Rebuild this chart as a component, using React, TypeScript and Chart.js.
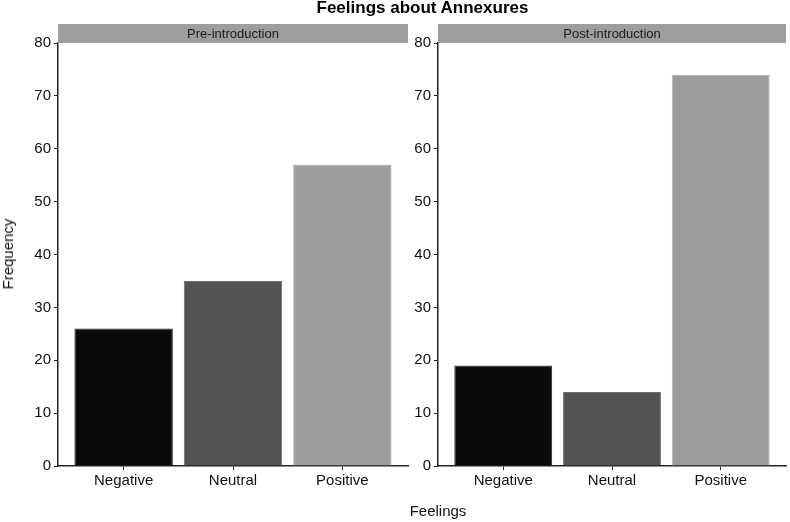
import React, { useEffect, useRef } from "react";
import { Chart, registerables } from "chart.js";

Chart.register(...registerables);

const categories = ["Negative", "Neutral", "Positive"];
const preValues = [26, 35, 57];
const postValues = [19, 14, 74];
const panelTitles = ["Pre-introduction", "Post-introduction"];
const barColors = ["#0a0a0a", "#535353", "#9c9c9c"];
const barBorders = ["#2a2a2a", "#6a6a6a", "#b4b4b4"];
const yMax = 80;
const yStep = 10;

const FONT = "'Liberation Sans', Arial, Helvetica, sans-serif";

const stripPlugin = {
  id: "strip",
  afterDraw(chart: any, _args: any, opts: any) {
    const { ctx, chartArea } = chart;
    ctx.save();
    ctx.fillStyle = "#9e9e9e";
    ctx.fillRect(chartArea.left, 24, chartArea.right - chartArea.left, chartArea.top - 24);
    ctx.fillStyle = "#1a1a1a";
    ctx.font = `13px ${FONT}`;
    ctx.textAlign = "center";
    ctx.textBaseline = "middle";
    ctx.fillText(opts.text, (chartArea.left + chartArea.right) / 2, (24 + chartArea.top) / 2 + 0.5);
    ctx.restore();
  },
};

function Panel(props: { values: number[]; title: string; left: number; width: number; yWidth: number; padRight: number }) {
  const ref = useRef<HTMLCanvasElement>(null);
  useEffect(() => {
    if (!ref.current) return;
    const chart = new Chart(ref.current, {
      type: "bar",
      data: {
        datasets: [
          {
            data: props.values.map((v, i) => ({ x: i + 1, y: v })),
            backgroundColor: barColors,
            borderColor: barBorders,
            borderWidth: 1,
            barPercentage: 0.9,
            categoryPercentage: 1,
          },
        ],
      },
      options: {
        animation: false,
        responsive: false,
        maintainAspectRatio: false,
        layout: { padding: { top: 43, left: 0, right: props.padRight, bottom: 0 } },
        plugins: {
          legend: { display: false },
          tooltip: { enabled: false },
          strip: { text: props.title },
        } as any,
        scales: {
          x: {
            type: "linear",
            min: 0.4,
            max: categories.length + 0.6,
            offset: false,
            afterBuildTicks: (s: any) => {
              s.ticks = categories.map((_, i) => ({ value: i + 1 }));
            },
            grid: { drawOnChartArea: false, offset: false, tickLength: 4, color: "#222" },
            border: { color: "#222", width: 1.5 },
            ticks: {
              font: { family: FONT, size: 15 },
              color: "#111",
              padding: 2,
              autoSkip: false,
              maxRotation: 0,
              callback: (v: any) => categories[Math.round(Number(v)) - 1] ?? "",
            },
            afterFit: (s: any) => {
              s.height = 56;
            },
          },
          y: {
            min: 0,
            max: yMax,
            ticks: { stepSize: yStep, font: { family: FONT, size: 15 }, color: "#111", padding: 3 },
            grid: { drawOnChartArea: false, tickLength: 4, color: "#222" },
            border: { color: "#222", width: 1.5 },
            afterFit: (s: any) => {
              s.width = props.yWidth;
            },
          },
        },
      } as any,
      plugins: [stripPlugin],
    });
    return () => chart.destroy();
  }, []);
  return (
    <canvas
      ref={ref}
      width={props.width}
      height={522}
      style={{ position: "absolute", left: props.left, top: 0, width: props.width, height: 522 }}
    />
  );
}

export default function App() {
  return (
    <div style={{ position: "absolute", left: 0, top: 0, width: 790, height: 522, background: "#fff", fontFamily: FONT }}>
      <Panel values={preValues} title={panelTitles[0]} left={0} width={410} yWidth={58} padRight={2} />
      <Panel values={postValues} title={panelTitles[1]} left={410} width={380} yWidth={28} padRight={4} />
      <div
        style={{
          position: "absolute",
          left: 0,
          width: 845,
          top: -2,
          textAlign: "center",
          fontWeight: "bold",
          fontSize: 17,
          color: "#000",
          lineHeight: "20px",
        }}
      >
        Feelings about Annexures
      </div>
      <div
        style={{
          position: "absolute",
          left: 0,
          width: 876,
          top: 501,
          textAlign: "center",
          fontSize: 15,
          color: "#111",
          lineHeight: "20px",
        }}
      >
        Feelings
      </div>
      <div
        style={{
          position: "absolute",
          left: 8,
          top: 254,
          transform: "translate(-50%, -50%) rotate(-90deg)",
          fontSize: 15,
          color: "#111",
          whiteSpace: "nowrap",
          lineHeight: "16px",
        }}
      >
        Frequency
      </div>
    </div>
  );
}
